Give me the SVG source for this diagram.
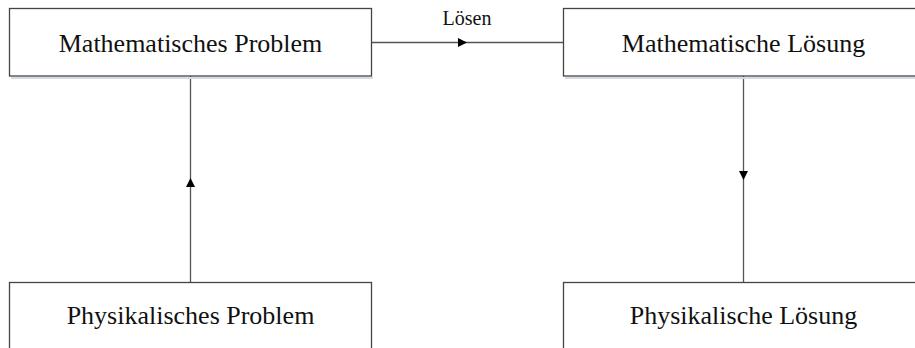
<svg xmlns="http://www.w3.org/2000/svg" width="915" height="348" viewBox="0 0 915 348">
<style>
.box{fill:#fff;stroke:#444;stroke-width:1.3}
.shadow{fill:none;stroke:#d5dbe4;stroke-width:2}
.lbl{font-family:"Liberation Serif","Times New Roman",serif;font-size:26px;fill:#111;text-anchor:middle}
.edge{fill:none;stroke:#555;stroke-width:1.3}
.elbl{font-family:"Liberation Serif","Times New Roman",serif;font-size:20px;fill:#111;text-anchor:middle}
</style>
<defs>
<marker id="arr" viewBox="0 0 10 10" refX="10" refY="5" markerWidth="11" markerHeight="9" markerUnits="userSpaceOnUse" orient="auto">
<path d="M0,0 L10,5 L0,10 z" fill="#000"/>
</marker>
</defs>
<rect width="915" height="348" fill="#fff"/>
<g id="connectors">
<path class="edge" d="M372,42.5 L467,42.5 L563,42.5" marker-mid="url(#arr)"/>
<text class="elbl" x="467" y="25">Lösen</text>
<path class="edge" d="M190.5,282 L190.5,178 L190.5,76" marker-mid="url(#arr)"/>
<path class="edge" d="M743.5,76 L743.5,180 L743.5,282" marker-mid="url(#arr)"/>
</g>
<g id="n1">
<path class="shadow" d="M11,78 L373,78"/>
<rect class="box" x="9.5" y="8.5" width="362" height="67.5"/>
<text class="lbl" x="190.5" y="51.5">Mathematisches Problem</text>
</g>
<g id="n2">
<path class="shadow" d="M565,78 L915,78"/>
<rect class="box" x="563.5" y="8.5" width="360" height="67.5"/>
<text class="lbl" x="743.5" y="51.5">Mathematische Lösung</text>
</g>
<g id="n3">
<rect class="box" x="9.5" y="282.5" width="362" height="68"/>
<text class="lbl" x="190.5" y="323.5">Physikalisches Problem</text>
</g>
<g id="n4">
<rect class="box" x="563.5" y="282.5" width="360" height="68"/>
<text class="lbl" x="743.5" y="323.5">Physikalische Lösung</text>
</g>
</svg>
